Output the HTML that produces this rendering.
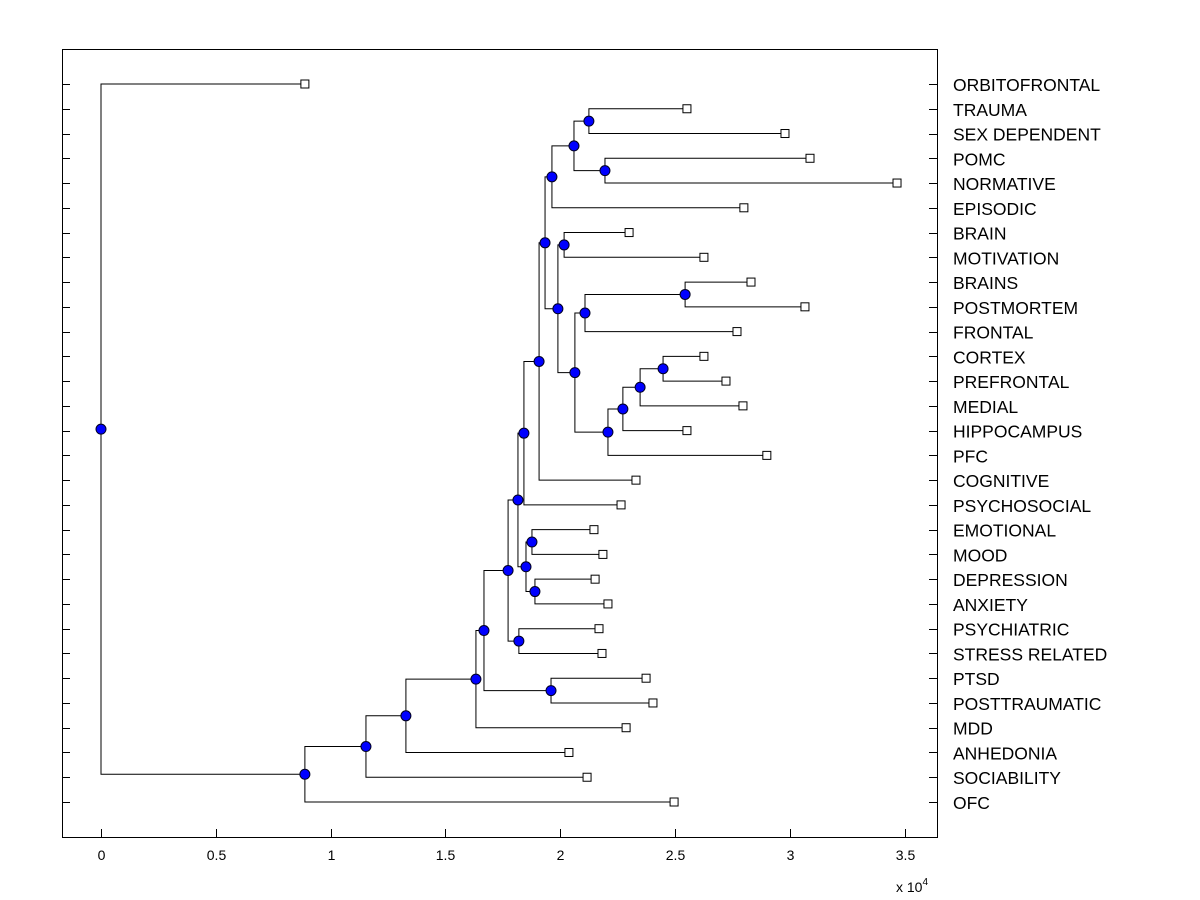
<!DOCTYPE html>
<html><head><meta charset="utf-8"><style>
body{margin:0;background:#fff;}
svg{display:block;font-family:"Liberation Sans",Arial,sans-serif;}
</style></head><body>
<svg id="chart" width="1200" height="900" viewBox="0 0 1200 900">
<rect x="62.5" y="49.5" width="875" height="788" fill="#fff" stroke="#000" stroke-width="1"/>
<g id="axis"></g>
<g id="links"></g>
<g id="marks"></g>
<g id="labels"></g>
<text x="896" y="892" font-size="14">x 10<tspan dy="-7" font-size="10">4</tspan></text>
</svg>
<script>
const leafLabels=["ORBITOFRONTAL","TRAUMA","SEX DEPENDENT","POMC","NORMATIVE","EPISODIC","BRAIN","MOTIVATION","BRAINS","POSTMORTEM","FRONTAL","CORTEX","PREFRONTAL","MEDIAL","HIPPOCAMPUS","PFC","COGNITIVE","PSYCHOSOCIAL","EMOTIONAL","MOOD","DEPRESSION","ANXIETY","PSYCHIATRIC","STRESS RELATED","PTSD","POSTTRAUMATIC","MDD","ANHEDONIA","SOCIABILITY","OFC"];
const leafHeights=[0.888,2.552,2.979,3.088,3.467,2.80,2.30,2.626,2.831,3.066,2.77,2.626,2.722,2.796,2.552,2.90,2.33,2.265,2.147,2.186,2.152,2.208,2.169,2.182,2.374,2.404,2.287,2.038,2.117,2.496];
const nodeLeft=["L1","L3","N0","N2","L6","L8","N5","L11","N7","N8","N9","N6","N4","N3","N13","N14","L18","L20","N16","N15","L22","N19","L24","N21","N23","N24","N25","N26","L0"];
const nodeRight=["L2","L4","N1","L5","L7","L9","L10","L12","L13","L14","L15","N10","N11","N12","L16","L17","L19","L21","N17","N18","L23","N20","L25","N22","L26","L27","L28","L29","N27"];
const nodeHeights=[2.125,2.195,2.06,1.964,2.017,2.544,2.108,2.448,2.348,2.273,2.208,2.064,1.99,1.934,1.908,1.842,1.877,1.89,1.851,1.816,1.82,1.773,1.96,1.668,1.633,1.328,1.154,0.888,0];
const xTicks=[0,0.5,1,1.5,2,2.5,3,3.5];
const xTickLabels=["0","0.5","1","1.5","2","2.5","3","3.5"];

const NS="http://www.w3.org/2000/svg";
const X0=101,XS=229.6,Y0=84,YS=(802-84)/29;
const xs=v=>X0+v*XS, ys=i=>Y0+i*YS;
function mk(tag,attrs,parent){const e=document.createElementNS(NS,tag);for(const k in attrs)e.setAttribute(k,attrs[k]);parent.appendChild(e);return e;}
const axis=document.getElementById('axis'),links=document.getElementById('links'),marks=document.getElementById('marks'),labels=document.getElementById('labels');

xTicks.forEach((t,i)=>{
  const x=Math.round(xs(t))+0.5;
  const tk=mk('line',{x1:x,x2:x,y1:837,y2:829,stroke:'#000'},axis);
  
  
  const tl=mk('text',{x:x,y:860,'text-anchor':'middle','font-size':'14'},axis);
  tl.textContent=xTickLabels[i];
  
  
});
leafLabels.forEach((l,i)=>{
  const y=Math.round(ys(i))+0.5;
  const tk=mk('line',{x1:62,x2:70,y1:y,y2:y,stroke:'#000'},axis);
  
  
  const tk2=mk('line',{x1:929,x2:937,y1:y,y2:y,stroke:'#000'},axis);
  
  
  const t=mk('text',{x:953,y:ys(i)+7,'font-size':'17.5'},labels);
  t.textContent=l;
  
  
});
function pos(ref){
  const idx=+ref.slice(1);
  if(ref[0]==='L')return {x:xs(leafHeights[idx]),y:ys(idx)};
  const a=pos(nodeLeft[idx]),b=pos(nodeRight[idx]);
  return {x:xs(nodeHeights[idx]),y:(a.y+b.y)/2};
}
const nodePts=[];
nodeHeights.forEach((h,i)=>{
  const p=pos('N'+i),a=pos(nodeLeft[i]),b=pos(nodeRight[i]);
  const d=`M${a.x},${a.y}H${p.x}V${b.y}H${b.x}`;
  const pa=mk('path',{d:d,fill:'none',stroke:'#000','stroke-width':1},links);
  
  
  nodePts.push(p);
});
leafHeights.forEach((h,i)=>{
  const r=mk('rect',{x:xs(h)-4,y:ys(i)-4,width:8,height:8,fill:'#fff',stroke:'#000'},marks);
  
  
});
nodePts.forEach(p=>{
  const c=mk('circle',{cx:p.x,cy:p.y,r:5,fill:'#0000ff',stroke:'#000020','stroke-width':1},marks);
  
  
});
</script>
</body></html>
